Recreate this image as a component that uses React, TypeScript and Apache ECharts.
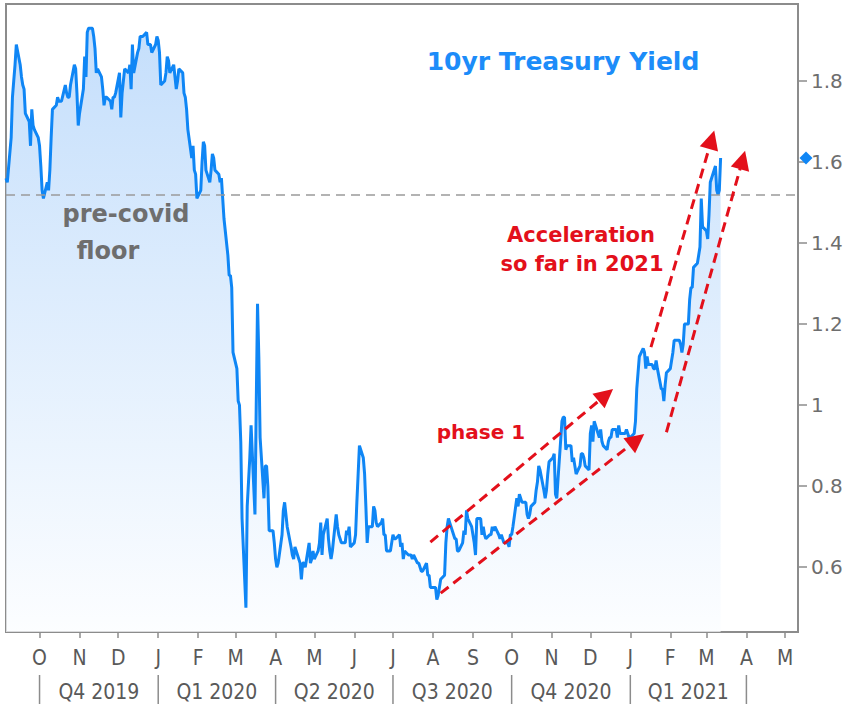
import React, { useEffect, useRef } from "react";
import * as echarts from "echarts";

// ---------- data ----------
const DATA_START = "2019-09-05";
const AXIS_MIN = "2019-09-05";
const AXIS_MAX = "2021-05-11";

// 10yr yield, one value per business day (Mon-Fri) of each month
const sep2019 = [1.56, 1.55, 1.66, 1.76, 1.80, 1.84, 1.89, 1.84, 1.81, 1.79, 1.78, 1.72, 1.70, 1.64, 1.73, 1.69, 1.68, 1.66];
const oct2019 = [1.64, 1.59, 1.53, 1.51, 1.55, 1.53, 1.58, 1.66, 1.73, 1.74, 1.76, 1.75, 1.75, 1.75, 1.79, 1.77, 1.76, 1.76, 1.79, 1.84, 1.83, 1.77, 1.69];
const nov2019 = [1.72, 1.78, 1.86, 1.81, 1.92, 1.93, 1.93, 1.91, 1.88, 1.82, 1.83, 1.81, 1.78, 1.74, 1.76, 1.76, 1.75, 1.73, 1.76, 1.76, 1.77];
const dec2019 = [1.82, 1.71, 1.77, 1.80, 1.83, 1.82, 1.84, 1.78, 1.89, 1.82, 1.87, 1.88, 1.91, 1.91, 1.91, 1.92, 1.89, 1.89, 1.89, 1.87, 1.89, 1.91];
const jan2020 = [1.90, 1.87, 1.79, 1.80, 1.82, 1.86, 1.85, 1.82, 1.84, 1.81, 1.78, 1.80, 1.83, 1.82, 1.77, 1.76, 1.73, 1.68, 1.61, 1.64, 1.58, 1.57, 1.51];
const feb2020 = [1.53, 1.60, 1.65, 1.64, 1.58, 1.55, 1.58, 1.62, 1.61, 1.58, 1.57, 1.55, 1.56, 1.51, 1.46, 1.37, 1.32, 1.32, 1.29, 1.13];
const mar2020 = [1.09, 1.01, 1.00, 0.91, 0.72, 0.50, 0.75, 0.81, 0.87, 0.95, 0.73, 1.00, 1.25, 1.12, 0.92, 0.77, 0.85, 0.85, 0.80, 0.69, 0.69, 0.66];
const apr2020 = [0.62, 0.60, 0.61, 0.68, 0.74, 0.76, 0.73, 0.70, 0.65, 0.63, 0.62, 0.65, 0.64, 0.61, 0.57, 0.61, 0.61, 0.60, 0.66, 0.61, 0.62, 0.64];
const may2020 = [0.62, 0.64, 0.66, 0.71, 0.63, 0.68, 0.72, 0.67, 0.64, 0.62, 0.64, 0.73, 0.70, 0.68, 0.67, 0.66, 0.66, 0.69, 0.68, 0.70, 0.65];
const jun2020 = [0.66, 0.68, 0.76, 0.83, 0.90, 0.87, 0.83, 0.75, 0.66, 0.70, 0.70, 0.75, 0.74, 0.71, 0.70, 0.71, 0.72, 0.68, 0.68, 0.64, 0.64, 0.66];
const jul2020 = [0.68, 0.67, 0.67, 0.68, 0.65, 0.66, 0.62, 0.64, 0.63, 0.63, 0.63, 0.62, 0.63, 0.61, 0.61, 0.60, 0.59, 0.59, 0.61, 0.58, 0.58, 0.55, 0.55];
const aug2020 = [0.55, 0.52, 0.53, 0.55, 0.57, 0.58, 0.66, 0.70, 0.72, 0.71, 0.68, 0.67, 0.67, 0.64, 0.64, 0.66, 0.69, 0.68, 0.74, 0.72, 0.70];
const sep2020 = [0.68, 0.66, 0.63, 0.72, 0.72, 0.68, 0.70, 0.68, 0.67, 0.68, 0.68, 0.70, 0.69, 0.70, 0.68, 0.67, 0.68, 0.67, 0.66, 0.66, 0.65, 0.68];
const oct2020 = [0.68, 0.70, 0.77, 0.75, 0.78, 0.77, 0.76, 0.76, 0.73, 0.72, 0.73, 0.75, 0.76, 0.79, 0.81, 0.85, 0.84, 0.79, 0.77, 0.79, 0.83, 0.86];
const nov2020 = [0.87, 0.88, 0.78, 0.77, 0.82, 0.96, 0.97, 0.97, 0.89, 0.90, 0.90, 0.86, 0.87, 0.85, 0.83, 0.85, 0.88, 0.88, 0.87, 0.85, 0.84];
const dec2020 = [0.93, 0.95, 0.91, 0.96, 0.93, 0.92, 0.94, 0.91, 0.90, 0.89, 0.91, 0.92, 0.92, 0.94, 0.94, 0.92, 0.95, 0.93, 0.93, 0.93, 0.94, 0.93, 0.92];
const jan2021 = [0.92, 0.93, 0.96, 1.04, 1.08, 1.12, 1.14, 1.13, 1.09, 1.12, 1.10, 1.10, 1.09, 1.09, 1.11, 1.09, 1.04, 1.04, 1.01, 1.05, 1.08];
const feb2021 = [1.09, 1.11, 1.13, 1.16, 1.16, 1.16, 1.15, 1.13, 1.15, 1.20, 1.20, 1.26, 1.29, 1.29, 1.34, 1.35, 1.37, 1.39, 1.51, 1.44];
const mar2021 = [1.43, 1.41, 1.47, 1.55, 1.56, 1.59, 1.53, 1.52, 1.53, 1.61];

const MONTHS: [string, number[]][] = [
  ["2019-09", sep2019], ["2019-10", oct2019], ["2019-11", nov2019], ["2019-12", dec2019],
  ["2020-01", jan2020], ["2020-02", feb2020], ["2020-03", mar2020], ["2020-04", apr2020],
  ["2020-05", may2020], ["2020-06", jun2020], ["2020-07", jul2020], ["2020-08", aug2020],
  ["2020-09", sep2020], ["2020-10", oct2020], ["2020-11", nov2020], ["2020-12", dec2020],
  ["2021-01", jan2021], ["2021-02", feb2021], ["2021-03", mar2021],
];

const FLOOR_LEVEL = 1.52;

const MONTH_TICK_DATES = [
  "2019-10-01", "2019-11-01", "2019-12-01", "2020-01-01", "2020-02-01", "2020-03-01", "2020-04-01",
  "2020-05-01", "2020-06-01", "2020-07-01", "2020-08-01", "2020-09-01", "2020-10-01", "2020-11-01",
  "2020-12-01", "2021-01-01", "2021-02-01", "2021-03-01", "2021-04-01", "2021-05-01",
];
const MONTH_LABELS = ["O", "N", "D", "J", "F", "M", "A", "M", "J", "J", "A", "S", "O", "N", "D", "J", "F", "M", "A", "M"];

const QUARTER_BOUNDS = ["2019-10-01", "2020-01-01", "2020-04-01", "2020-07-01", "2020-10-01", "2021-01-01", "2021-04-01"];
const QUARTER_LABELS = ["Q4 2019", "Q1 2020", "Q2 2020", "Q3 2020", "Q4 2020", "Q1 2021"];

const Y_TICKS = [0.6, 0.8, 1.0, 1.2, 1.4, 1.6, 1.8];
const Y_TICK_LABELS = ["0.6", "0.8", "1", "1.2", "1.4", "1.6", "1.8"];

// annotation arrows: [startDate, startValue, endDate, endValue]
const ARROWS: [string, number, string, number][] = [
  ["2020-07-30", 0.662, "2020-12-13", 1.025],
  ["2020-08-07", 0.536, "2021-01-06", 0.914],
  ["2021-01-17", 1.143, "2021-03-05", 1.655],
  ["2021-01-29", 0.933, "2021-03-29", 1.605],
];

// ---------- helpers ----------
function ts(s: string): number {
  const [y, m, d] = s.split("-").map(Number);
  return new Date(y, m - 1, d || 1).getTime();
}

function buildSeries(): [number, number][] {
  const out: [number, number][] = [];
  const start = ts(DATA_START);
  for (const [ym, vals] of MONTHS) {
    const [y, m] = ym.split("-").map(Number);
    let day = 1;
    let i = 0;
    while (i < vals.length) {
      const d = new Date(y, m - 1, day);
      if (d.getMonth() !== m - 1) break;
      const dow = d.getDay();
      if (dow !== 0 && dow !== 6 && d.getTime() >= start) {
        out.push([d.getTime(), vals[i]]);
        i++;
      }
      day++;
    }
  }
  return out;
}

const BLUE = "#0f86f5";
const RED = "#e3101b";
const AXIS_GRAY = "#8c8c8c";
const COND = '"DejaVu Sans Condensed", "Liberation Sans Narrow", "DejaVu Sans", sans-serif';
const SANS = '"DejaVu Sans", Verdana, sans-serif';

export default function App() {
  const ref = useRef<HTMLDivElement>(null);

  useEffect(() => {
    if (!ref.current) return;
    const chart = echarts.init(ref.current, undefined, { renderer: "svg" });
    const data = buildSeries();
    const last = data[data.length - 1];
    const monthTicks = MONTH_TICK_DATES.map(ts);

    const option: any = {
      animation: false,
      backgroundColor: "#ffffff",
      grid: {
        left: 6, right: 53, top: 4, bottom: 76,
        show: true, borderColor: AXIS_GRAY, borderWidth: 2, backgroundColor: "transparent",
      },
      xAxis: {
        type: "value",
        min: ts(AXIS_MIN),
        max: ts(AXIS_MAX),
        axisLine: { show: true, onZero: false, lineStyle: { color: AXIS_GRAY, width: 2 } },
        axisTick: { show: true, length: 6, customValues: monthTicks, lineStyle: { color: AXIS_GRAY, width: 1.5 } },
        axisLabel: {
          customValues: monthTicks,
          formatter: (v: number) => {
            const idx = monthTicks.findIndex((t) => Math.abs(t - v) < 1000);
            return idx >= 0 ? MONTH_LABELS[idx] : "";
          },
          color: "#595959",
          fontSize: 21,
          fontFamily: COND,
          margin: 15,
        },
        splitLine: { show: false },
      },
      yAxis: {
        type: "value",
        position: "right",
        min: 0.44,
        max: 1.99,
        axisLine: { show: true, lineStyle: { color: AXIS_GRAY, width: 2 } },
        axisTick: { show: true, length: 9, inside: false, customValues: Y_TICKS, lineStyle: { color: AXIS_GRAY, width: 1.5 } },
        axisLabel: {
          customValues: Y_TICKS,
          formatter: (v: number) => {
            const idx = Y_TICKS.findIndex((t) => Math.abs(t - v) < 1e-6);
            return idx >= 0 ? Y_TICK_LABELS[idx] : "";
          },
          color: "#6e6e6e",
          fontSize: 20,
          fontFamily: SANS,
          margin: 13,
        },
        splitLine: { show: false },
      },
      series: [
        {
          type: "line",
          data,
          showSymbol: false,
          symbol: "none",
          clip: false,
          lineStyle: { color: BLUE, width: 3 },
          areaStyle: {
            origin: "start",
            color: new echarts.graphic.LinearGradient(0, 0, 0, 1, [
              { offset: 0, color: "#acd1fa" },
              { offset: 1, color: "#fbfdff" },
            ]),
          },
          z: 3,
          markLine: {
            silent: true,
            symbol: ["none", "none"],
            label: { show: false },
            lineStyle: { color: "#9a9a9a", type: [9, 6], width: 1.6 },
            data: [{ yAxis: FLOOR_LEVEL }],
          },
          markPoint: {
            silent: true,
            symbol: "diamond",
            symbolSize: 13,
            symbolOffset: [8, 0],
            itemStyle: { color: BLUE },
            label: { show: false },
            data: [{ coord: [ts(AXIS_MAX), last[1]] }],
          },
        },
        {
          type: "scatter",
          data: [],
          z: 5,
          markLine: {
            silent: true,
            symbol: ["none", "triangle"],
            symbolSize: 19,
            label: { show: false },
            lineStyle: { color: RED, type: [10, 6], width: 3, opacity: 1 },
            itemStyle: { color: RED, opacity: 1 },
            data: ARROWS.map(([d1, v1, d2, v2]) => [
              { coord: [ts(d1), v1], symbol: "none" },
              { coord: [ts(d2), v2], symbol: "triangle", symbolSize: 19, itemStyle: { color: RED } },
            ]),
          },
        },
      ],
    };

    chart.setOption(option);

    const px = (s: string) => chart.convertToPixel({ xAxisIndex: 0 }, ts(s)) as number;
    const graphics: any[] = [];
    QUARTER_BOUNDS.forEach((b) => {
      const x = px(b);
      graphics.push({
        type: "line",
        shape: { x1: x, y1: 675, x2: x, y2: 704 },
        style: { stroke: AXIS_GRAY, lineWidth: 1.5 },
        silent: true,
      });
    });
    QUARTER_LABELS.forEach((q, i) => {
      const x = (px(QUARTER_BOUNDS[i]) + px(QUARTER_BOUNDS[i + 1])) / 2;
      graphics.push({
        type: "text",
        x, y: 692,
        silent: true,
        style: { text: q, fill: "#595959", fontSize: 21, fontFamily: COND, align: "center", verticalAlign: "middle" },
      });
    });
    const label = (text: string, x: number, y: number, fill: string, size: number) => ({
      type: "text",
      x, y,
      silent: true,
      z: 10,
      style: { text, fill, fontSize: size, fontWeight: "bold", fontFamily: SANS, align: "center", verticalAlign: "middle" },
    });
    graphics.push(label("10yr Treasury Yield", 563, 61, "#1c8cf9", 25));
    graphics.push(label("pre-covid", 126, 214, "#6e6e6e", 24));
    graphics.push(label("floor", 108, 251, "#6e6e6e", 24));
    graphics.push(label("Acceleration", 581, 235, RED, 21));
    graphics.push(label("so far in 2021", 582, 264, RED, 21));
    graphics.push(label("phase 1", 481, 432, RED, 20));

    chart.setOption({ graphic: graphics });

    return () => chart.dispose();
  }, []);

  return (
    <div
      ref={ref}
      style={{ position: "fixed", left: 0, top: 0, width: 851, height: 708, background: "#fff" }}
    />
  );
}
